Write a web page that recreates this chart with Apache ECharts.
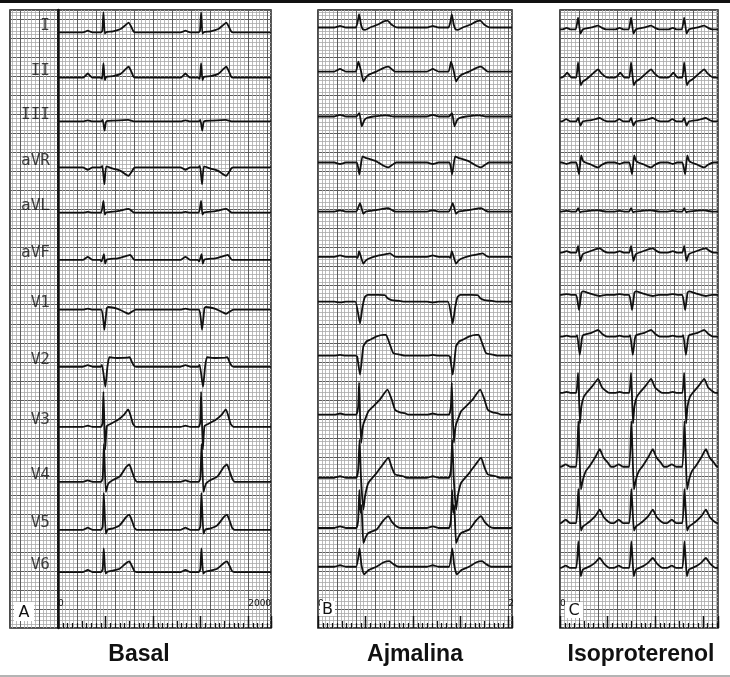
<!DOCTYPE html>
<html>
<head>
<meta charset="utf-8">
<script src="https://cdn.jsdelivr.net/npm/echarts@6/dist/echarts.min.js"></script>
<style>
  html, body { margin: 0; padding: 0; background: #fff; }
  #chart { width: 730px; height: 677px; }
</style>
</head>
<body>
<div id="chart"></div>
<script>
// lead names, row baselines (mm from the bottom of each strip) and R-peak times (ms)
const leads = ['I', 'II', 'III', 'aVR', 'aVL', 'aVF', 'V1', 'V2', 'V3', 'V4', 'V5', 'V6'];
const rowsA = [156.6, 144.7, 133.2, 121.1, 109.2, 96.8, 83.7, 68.7, 52.9, 38.4, 25.8, 14.7];
const rowsB = [157.9, 146.3, 134.5, 122.4, 109.5, 97.6, 85.8, 71.6, 56.1, 39.5, 26.3, 16.1];
const rowsC = [157.4, 144.7, 133.2, 122.4, 109.5, 98.7, 87.6, 76.6, 61.8, 42.4, 27.6, 15.8];
const beatsA = [478, 1505];
const beatsB = [432, 1407];
const beatsC = [190, 747, 1305];
const titles = ['Basal', 'Ajmalina', 'Isoproterenol'];

// one beat per lead: [ms from R peak, mm]
const basal = [
  [[-215,0],[-190,0.2],[-165,0.5],[-140,0.2],[-115,0],[-30,0],[-12,0.4],[0,5.3],[14,-0.3],[30,0.1],[100,0.3],[180,0.9],[235,2.0],[265,2.6],[290,1.6],[315,0.3],[335,0]],
  [[-215,0],[-190,0.5],[-165,1.1],[-140,0.5],[-115,0],[-30,0],[-14,-0.3],[0,3.8],[14,-0.6],[30,0.2],[100,0.4],[180,1.0],[235,2.3],[265,2.9],[290,1.8],[315,0.3],[335,0]],
  [[-215,0],[-165,0.3],[-115,0],[-25,0],[-8,0.4],[12,-2.4],[30,0],[120,0.2],[260,0.4],[320,0]],
  [[-215,0],[-190,-0.3],[-165,-0.6],[-140,-0.3],[-115,0],[-30,0],[-12,0.4],[10,-4.4],[30,0.3],[100,-0.3],[180,-0.9],[240,-1.9],[265,-2.2],[295,-1.2],[320,-0.2],[340,0]],
  [[-215,0],[-165,0.2],[-115,0],[-25,0],[0,3.1],[14,-0.5],[30,0.1],[150,0.4],[265,1.0],[310,0.2],[330,0]],
  [[-215,0],[-190,0.4],[-165,0.8],[-140,0.4],[-115,0],[-35,0],[-20,-0.4],[5,1.5],[18,-1.0],[35,0.1],[150,0.4],[250,1.1],[280,1.3],[305,0.6],[325,0]],
  [[-215,0],[-165,0.3],[-115,0],[-20,0],[10,-5.3],[35,0.4],[50,0.7],[150,0.2],[220,-0.6],[265,-1.1],[300,-0.5],[340,0]],
  [[-215,0],[-165,0.4],[-115,0],[-30,0],[-15,0.5],[20,-5.3],[42,0],[63,2.5],[150,2.3],[250,2.4],[275,2.5],[300,1.2],[320,0.3],[345,0]],
  [[-215,0],[-165,0.3],[-115,0],[-25,0],[-10,1],[0,9.2],[18,-6],[35,0.2],[60,0.6],[150,1.8],[220,3.3],[260,4.6],[285,3.0],[310,0.8],[340,0]],
  [[-215,0],[-165,0.4],[-115,0],[-25,0],[-8,1],[5,10],[25,-2.6],[50,-0.5],[100,0.5],[170,1.4],[240,4.0],[272,4.6],[300,2.8],[325,1.0],[355,0]],
  [[-215,0],[-190,0.3],[-165,0.6],[-140,0.3],[-115,0],[-25,0],[-8,1],[3,9.7],[25,-1],[45,0.1],[100,0.4],[170,1.2],[240,3.4],[272,4.0],[300,2.4],[325,0.6],[350,0]],
  [[-215,0],[-190,0.3],[-165,0.6],[-140,0.3],[-115,0],[-25,0],[-8,0.8],[3,6.2],[22,-0.4],[45,0.1],[100,0.4],[170,0.9],[240,2.4],[272,2.8],[300,1.6],[325,0.3],[350,0]]
];
const ajmalina = [
  [[-260,0],[-230,0.2],[-200,0.4],[-170,0.2],[-140,0],[-35,0],[-15,1.5],[0,3.5],[20,0.8],[40,-0.5],[63,-0.6],[115,0],[200,0.8],[260,1.6],[298,1.8],[340,0.8],[378,0.2],[410,0]],
  [[-260,0],[-230,0.35],[-200,0.7],[-170,0.35],[-140,0],[-35,0],[-7,2.6],[20,0.2],[45,-2.6],[70,-1.6],[98,-0.9],[180,0],[260,1.0],[308,1.3],[345,0.6],[378,0]],
  [[-260,0],[-200,0.4],[-140,0],[-30,0],[3,0.9],[28,-2.6],[55,-1.0],[80,-0.4],[150,0],[290,0.3],[360,0]],
  [[-260,0],[-200,-0.4],[-140,0],[-25,0],[3,-3.1],[35,1.6],[63,1.3],[180,0.3],[270,-1.0],[308,-1.3],[350,-0.6],[390,0]],
  [[-260,0],[-200,0.3],[-140,0],[-30,0],[10,2.2],[45,-0.6],[70,0],[180,0.4],[308,0.9],[360,0.2],[390,0]],
  [[-260,0],[-200,0.4],[-140,0],[-30,0],[-15,-0.3],[0,1.5],[45,-1.8],[70,-1.0],[98,-0.5],[200,0.3],[300,0.8],[325,0.9],[360,0.3],[390,0]],
  [[-260,0],[-200,-0.2],[-140,0],[-40,0],[10,-5.7],[35,-1.5],[60,1.2],[90,1.8],[200,1.8],[273,1.7],[300,0.9],[343,0.4],[420,0.2],[480,0]],
  [[-260,0],[-200,0.2],[-140,0],[-40,0],[-20,-0.2],[10,-5.0],[45,2.5],[80,3.8],[115,4.2],[185,5.1],[255,5.5],[283,5.5],[325,2.9],[360,0.7],[430,0.3],[480,0]],
  [[-260,0],[-200,0.3],[-140,0],[-30,0],[-10,2],[0,8.4],[10,0],[22,-7.4],[35,-4],[45,-2.5],[63,-1.3],[98,0.9],[150,2.2],[220,4.0],[298,6.6],[343,4.0],[378,1.3],[430,0.6],[480,0.4],[520,0]],
  [[-260,0],[-200,0.4],[-140,0],[-30,0],[-10,2],[5,10],[20,0],[45,-8.4],[63,-4.8],[98,-1.3],[185,1.3],[250,3.5],[308,5.3],[340,3.0],[378,0.9],[465,0.4],[500,0]],
  [[-260,0],[-200,0.4],[-140,0],[-30,0],[-10,2],[3,10],[15,4],[25,6],[45,-4],[70,-2.4],[98,-1.3],[185,-0.4],[250,1.8],[308,3.1],[345,1.6],[395,0.4],[440,0]],
  [[-260,0],[-200,0.4],[-140,0],[-30,0],[5,4.8],[25,0.5],[52,-2.0],[98,-0.9],[180,0],[260,1.2],[318,1.5],[360,0.7],[413,0]]
];
const isoproterenol = [
  [[-165,0],[-120,0.4],[-80,0],[-25,0],[0,3.1],[25,-1.1],[50,0],[140,0.5],[210,1.0],[250,0.4],[295,0]],
  [[-170,0],[-140,0.6],[-115,1.3],[-90,0.6],[-65,0],[-20,0],[0,4.0],[28,-2.0],[50,-1.0],[88,-0.4],[160,1.2],[210,2.2],[250,1.0],[310,0]],
  [[-170,0],[-125,0.6],[-80,0],[-20,0],[0,0.9],[25,-1.1],[50,0],[150,0.4],[228,0.9],[270,0.3],[310,0]],
  [[-170,0],[-120,-0.4],[-75,0],[-20,0],[10,-3.1],[32,1.9],[55,0.3],[140,-0.6],[210,-1.3],[250,-0.6],[310,0]],
  [[-170,0],[-120,0.2],[-75,0],[-20,0],[0,0.9],[20,-0.2],[40,0],[210,0.3],[300,0]],
  [[-170,0],[-120,0.4],[-75,0],[-20,0],[0,1.8],[25,-2.2],[50,-0.4],[140,0.5],[228,1.1],[270,0.4],[310,0]],
  [[-170,0],[-120,0.2],[-75,0],[-20,0],[10,-4.0],[35,0.6],[50,0.9],[120,0.4],[228,-0.3],[290,0]],
  [[-170,0],[-120,0.3],[-75,0],[-25,0],[-10,0.4],[18,-4.8],[40,-0.5],[52,0.4],[140,1.0],[210,1.8],[250,0.8],[315,0]],
  [[-170,0],[-120,0.3],[-75,0],[-20,0],[0,5.3],[20,-8],[35,-3.5],[60,-1],[88,0],[150,1.8],[210,3.7],[250,1.5],[300,0.4],[330,0]],
  [[-180,0],[-130,0.6],[-85,0],[-20,0],[3,12],[30,-6],[52,-3.3],[80,-1.2],[122,0.2],[180,2.5],[228,4.6],[265,2.5],[315,1.0],[345,0]],
  [[-180,0],[-130,0.9],[-85,0],[-20,0],[3,9],[30,-2],[52,-0.9],[122,0.4],[180,1.8],[228,3.5],[270,1.5],[315,0.4],[345,0]],
  [[-180,0],[-130,0.6],[-85,0],[-20,0],[3,7],[28,-2.2],[52,-0.4],[122,0.4],[180,1.4],[228,2.6],[270,1.2],[315,0.2],[345,0]]
];

const chart = echarts.init(document.getElementById('chart'), null, { renderer: 'canvas' });

const FINE = '#a9a9a9', COARSE = '#5c5c5c', INK = '#111';
const TOP = 10, H = 618, YMAX = 162.5;
// panel strips: [left, width, ms across]
const strips = [
  { left: 10, width: 48, max: 505, inverse: true },   // A label column
  { left: 58, width: 213, max: 2240, ruler: v => (v === 0 ? '0' : v === 2000 ? '2000' : ''), thick: true },
  { left: 318, width: 194, max: 2040, ruler: v => (v === 0 ? '0' : v === 2000 ? '2' : '') },
  { left: 560, width: 158, max: 1660, ruler: v => (v === 0 ? '0' : '') }
];

const grid = [], xAxis = [], yAxis = [], fineX = [], fineY = [];
strips.forEach((s, g) => {
  grid.push({ left: s.left, top: TOP, width: s.width, height: H, show: true,
    backgroundColor: '#fff', borderColor: INK, borderWidth: 1.5 });
  const hidden = { axisLine: { show: false }, axisTick: { show: false }, axisLabel: { show: false } };
  fineX.push(xAxis.length);
  xAxis.push({ gridIndex: g, type: 'value', min: 0, max: s.max, inverse: !!s.inverse, interval: 40, position: 'top',
    ...hidden, splitLine: { show: true, lineStyle: { color: FINE, width: 0.8 } } });
  xAxis.push({ gridIndex: g, type: 'value', min: 0, max: s.max, inverse: !!s.inverse, interval: 200, position: 'top',
    ...hidden, splitLine: { show: true, lineStyle: { color: COARSE, width: 1 } } });
  if (s.ruler) {
    xAxis.push({ gridIndex: g, type: 'value', min: 0, max: s.max, interval: 250, position: 'bottom',
      axisLine: { show: false }, axisLabel: { show: false }, splitLine: { show: false },
      axisTick: { show: true, inside: true, length: 7, lineStyle: { color: INK, width: 1.2 } },
      minorTick: { show: true, splitNumber: 5, length: 5, lineStyle: { color: INK, width: 1.2 } } });
    xAxis.push({ gridIndex: g, type: 'value', min: 0, max: s.max, interval: 500, position: 'bottom',
      axisLine: { show: false }, splitLine: { show: false },
      axisTick: { show: true, inside: true, length: 12, lineStyle: { color: INK, width: 1.4 } },
      axisLabel: { show: true, inside: true, margin: 20, align: 'left', fontSize: 9,
        fontFamily: 'DejaVu Sans', color: INK, formatter: s.ruler } });
  }
  fineY.push(yAxis.length);
  yAxis.push({ gridIndex: g, type: 'value', min: 0, max: YMAX, interval: 1,
    ...hidden, splitLine: { show: true, lineStyle: { color: FINE, width: 0.8 } } });
  yAxis.push({ gridIndex: g, type: 'value', min: 0, max: YMAX, interval: 5,
    axisLine: { show: !!s.thick, lineStyle: { color: INK, width: 2.5 } },
    axisTick: { show: false }, axisLabel: { show: false },
    splitLine: { show: true, lineStyle: { color: COARSE, width: 1 } } });
});

function trace(beats, beat, base, max) {
  const pts = [[0, base]];
  beats.forEach(r => beat.forEach(([dt, a]) => pts.push([r + dt, base + a])));
  pts.push([max, base]);
  return pts;
}

const series = [];
const panels = [
  { g: 1, beats: beatsA, rows: rowsA, shapes: basal },
  { g: 2, beats: beatsB, rows: rowsB, shapes: ajmalina },
  { g: 3, beats: beatsC, rows: rowsC, shapes: isoproterenol }
];
panels.forEach(p => {
  leads.forEach((name, i) => {
    series.push({
      type: 'line', name, xAxisIndex: fineX[p.g], yAxisIndex: fineY[p.g],
      data: trace(p.beats, p.shapes[i], p.rows[i], strips[p.g].max),
      showSymbol: false, smooth: 0.15, silent: true, clip: true,
      lineStyle: { color: INK, width: 1.8 }
    });
  });
});

// lead names in the label column of panel A
series.push({
  type: 'scatter', xAxisIndex: fineX[0], yAxisIndex: fineY[0], silent: true,
  symbolSize: 1, itemStyle: { color: 'transparent' },
  data: leads.map((n, i) => ({ name: n, value: [80, rowsA[i] + 1.8] })),
  label: { show: true, position: 'left', distance: 0, formatter: '{b}',
    fontFamily: 'DejaVu Sans Mono', fontSize: 16, color: INK }
});

const letter = (t, x, y, w, h) => [
  { type: 'rect', z: 100, shape: { x, y, width: w, height: h }, style: { fill: '#fff' } },
  { type: 'text', z: 101, style: { text: t, x: x + w / 2, y: y + h / 2 + 1, fill: INK,
    font: '16px "DejaVu Sans"', textAlign: 'center', textVerticalAlign: 'middle' } }
];
const title = (t, x) => ({ type: 'text', z: 100, style: { text: t, x, y: 655, fill: '#111',
  font: 'bold 23px "Liberation Sans", Arial', textAlign: 'center', textVerticalAlign: 'middle' } });

chart.setOption({
  animation: false,
  backgroundColor: '#fff',
  grid, xAxis, yAxis, series,
  graphic: [
    { type: 'rect', z: 100, shape: { x: 0, y: 0, width: 730, height: 3 }, style: { fill: '#111' } },
    { type: 'rect', z: 100, shape: { x: 0, y: 675, width: 730, height: 2 }, style: { fill: '#b4b4b4' } },
    ...letter('A', 14, 602, 20, 19),
    ...letter('B', 320, 601, 15, 15),
    ...letter('C', 565, 602, 18, 16),
    title(titles[0], 139), title(titles[1], 415), title(titles[2], 641)
  ]
});
</script>
</body>
</html>
